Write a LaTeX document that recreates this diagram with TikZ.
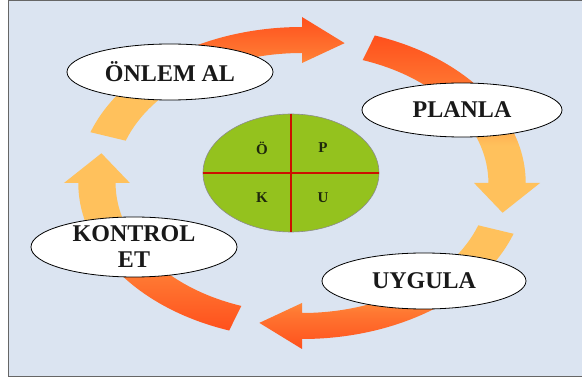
\documentclass[tikz,border=0pt]{standalone}
\usepackage{fontspec}
\setmainfont{Liberation Serif}
\usetikzlibrary{shapes.geometric}

\definecolor{slidebg}{RGB}{219,228,241}
\definecolor{arrowred}{RGB}{255,72,24}
\definecolor{arrowmid}{RGB}{255,120,50}
\definecolor{arrowlight}{RGB}{255,193,92}
\definecolor{pdcagreen}{RGB}{148,194,30}
\definecolor{crossred}{RGB}{204,16,0}
\definecolor{letterdark}{RGB}{30,40,12}

% red at the top or at the bottom, light towards the middle of the cycle
\pgfdeclareverticalshading{redtop}{100bp}{color(0bp)=(arrowlight); color(44bp)=(arrowlight);
	color(60bp)=(arrowmid); color(78bp)=(arrowred); color(100bp)=(arrowred)}
\pgfdeclareverticalshading{redbottom}{100bp}{color(0bp)=(arrowred); color(22bp)=(arrowred);
	color(40bp)=(arrowmid); color(56bp)=(arrowlight); color(100bp)=(arrowlight)}

\tikzset{
	stepoval/.style={ellipse, draw=black, line width=0.8pt, fill=white, inner sep=0pt,
		font=\fontsize{24}{26}\selectfont\bfseries, text=black!90, align=center},
	letter/.style={font=\fontsize{15}{15}\selectfont\bfseries, text=letterdark}
}

% one bent arrow of the cycle: #1 = angle of the head base, #2 = shading
\newcommand{\cyclearrow}[2]{%
	\shade[shading=#2]
		({#1+71}:156) arc[start angle={#1+71}, end angle=#1, radius=156]
		-- (#1:166) -- ({#1-12}:143) -- (#1:120) -- (#1:130)
		arc[start angle=#1, end angle={#1+71}, radius=130] -- cycle;%
}

\begin{document}
\begin{tikzpicture}[x=1pt, y=1pt]
	\useasboundingbox (0,0) rectangle (582,378);
	\draw[fill=slidebg, draw=black!60, line width=1pt] (8.5,1.5) rectangle (584,377.5);
	%%
	\begin{scope}[shift={(302,195)}, xscale=1.434]
		\cyclearrow{90}{redtop}
		\cyclearrow{0}{redtop}
		\cyclearrow{-90}{redbottom}
		\cyclearrow{180}{redbottom}
	\end{scope}
	%%
	\node[ellipse, draw=black!45, line width=0.6pt, fill=pdcagreen,
		minimum width=176, minimum height=118] (pdca) at (291,205) {};
	\draw[crossred, line width=1.2pt] (pdca.north) -- (pdca.south);
	\draw[crossred, line width=1.2pt] (pdca.west) -- (pdca.east);
	\node[letter] (o) at (262,230) {Ö};
	\node[letter] (p) at (323,230) {P};
	\node[letter] (k) at (262,180) {K};
	\node[letter] (u) at (323,180) {U};
	%%
	\node[stepoval, minimum width=206, minimum height=56] (onlem) at (170,306) {ÖNLEM AL};
	\node[stepoval, minimum width=200, minimum height=54] (planla) at (462,268) {PLANLA};
	\node[stepoval, minimum width=204, minimum height=56] (uygula) at (424,97) {UYGULA};
	\node[stepoval, minimum width=206, minimum height=60] (kontrol) at (134,131) {KONTROL\\ET};
\end{tikzpicture}
\end{document}
